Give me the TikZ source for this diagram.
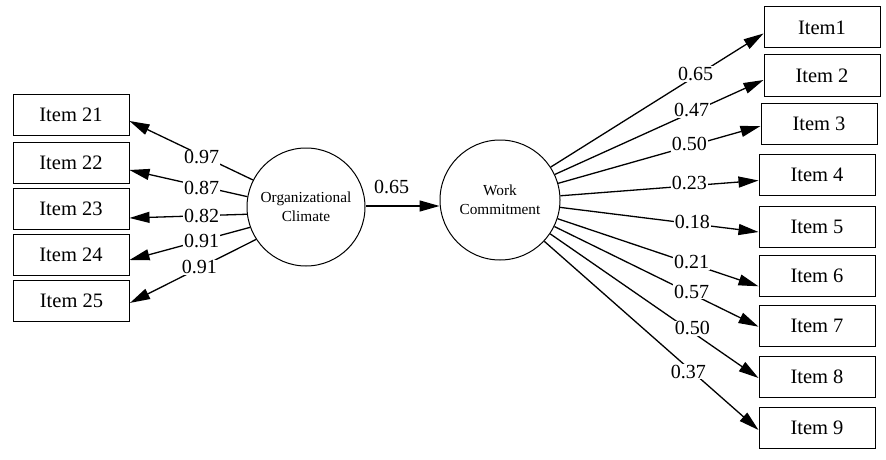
\documentclass[tikz,border=0pt]{standalone}
\usepackage{fontspec}
\setmainfont{Liberation Serif}
\usetikzlibrary{arrows.meta}
\begin{document}
\begin{tikzpicture}[x=1pt,y=-1pt,
 item/.style={draw, line width=1pt, minimum width=116pt, minimum height=41pt, inner sep=0pt, font=\fontsize{20.5}{24}\selectfont},
 latent/.style={draw, circle, line width=1pt, inner sep=0pt, align=center, font=\fontsize{15.3}{19}\selectfont},
 load/.style={line width=1.3pt, -{Triangle[length=20pt,width=11pt]}},
 coef/.style={fill=white, inner sep=1pt, font=\fontsize{20}{22}\selectfont}]
\useasboundingbox (0,0) rectangle (886,460);

% left items
\node[item] (i21) at (71,115) {Item 21};
\node[item] (i22) at (71,163) {Item 22};
\node[item] (i23) at (71,208.5) {Item 23};
\node[item] (i24) at (71,255) {Item 24};
\node[item] (i25) at (71.5,300.5) {Item 25};

% latent variables
\node[latent, minimum size=118pt] (OC) at (306,207) {Organizational\\Climate};
\node[latent, minimum size=120pt] (WC) at (500,200) {Work\\Commitment};

% right items
\node[item] (i1) at (822,27.5) {Item1};
\node[item] (i2) at (822,75.5) {Item 2};
\node[item] (i3) at (819,124) {Item 3};
\node[item] (i4) at (817,174.5) {Item 4};
\node[item] (i5) at (817,227) {Item 5};
\node[item] (i6) at (817,276.3) {Item 6};
\node[item] (i7) at (817,326) {Item 7};
\node[item] (i8) at (817,377) {Item 8};
\node[item] (i9) at (817,428) {Item 9};

% left loadings
\draw[load] (OC.153) -- ([yshift=-6pt]i21.east);
\draw[load] (OC.170.6) -- ([yshift=-7pt]i22.east);
\draw[load] (OC.187.8) -- ([yshift=-9.5pt]i23.east);
\draw[load] (OC.200.6) -- ([yshift=-5pt]i24.east);
\draw[load] (OC.213.8) -- ([yshift=-2.4pt]i25.east);

% structural path
\draw[load] ([yshift=1pt]OC.east) -- ([yshift=-6pt]WC.west);

% right loadings
\draw[load] (WC.33.7) -- ([yshift=-6pt]i1.west);
\draw[load] (WC.25.7) -- ([yshift=-4.5pt]i2.west);
\draw[load] (WC.16.5) -- ([yshift=-2pt]i3.west);
\draw[load] (WC.4.8) -- ([yshift=-6pt]i4.west);
\draw[load] (WC.-7) -- ([yshift=-5pt]i5.west);
\draw[load] (WC.-18.6) -- ([yshift=-10pt]i6.west);
\draw[load] (WC.-26.8) -- ([yshift=-0.7pt]i7.west);
\draw[load] (WC.-34) -- ([yshift=-1pt]i8.west);
\draw[load] (WC.-43.5) -- ([yshift=-2pt]i9.west);

% coefficient labels
\node[coef] (c21) at (201.7,157.3) {0.97};
\node[coef] (c22) at (201.7,188.3) {0.87};
\node[coef] (c23) at (201.7,216) {0.82};
\node[coef] (c24) at (201.7,241) {0.91};
\node[coef] (c25) at (199.3,267.3) {0.91};
\node[coef, fill=none] (cmid) at (391.7,187.3) {0.65};
\node[coef] (c1) at (695.7,74) {0.65};
\node[coef] (c2) at (691.7,110) {0.47};
\node[coef] (c3) at (689.3,144.3) {0.50};
\node[coef] (c4) at (689.3,182.7) {0.23};
\node[coef] (c5) at (692.3,222.3) {0.18};
\node[coef] (c6) at (691.7,262.3) {0.21};
\node[coef] (c7) at (691.7,291.7) {0.57};
\node[coef] (c8) at (692.3,328.3) {0.50};
\node[coef] (c9) at (688.3,371.7) {0.37};
\end{tikzpicture}
\end{document}
